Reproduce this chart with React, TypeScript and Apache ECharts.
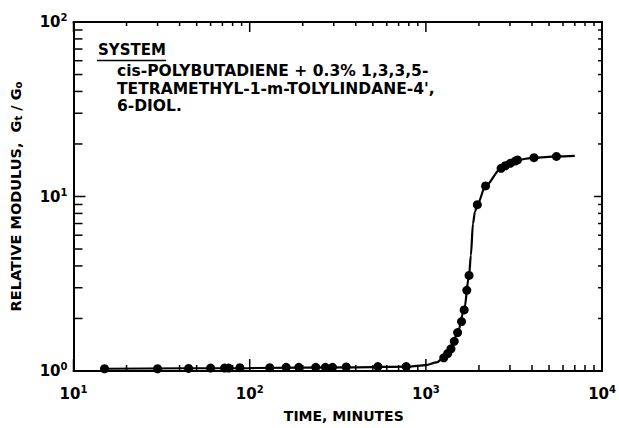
import React, { useEffect, useRef } from "react";
import * as echarts from "echarts";

// measured points: time (minutes) vs relative modulus Gt/Go
const pointTimes = [15, 30, 45, 60, 72, 76, 88, 130, 161, 190, 237, 269, 295, 353, 534, 773, 1263, 1330, 1388, 1449, 1514, 1594, 1649, 1707, 1758, 1959, 2181, 2672, 2824, 3012, 3212, 3309, 4107, 5505];
const pointModulus = [1.03, 1.03, 1.035, 1.04, 1.04, 1.04, 1.045, 1.045, 1.05, 1.05, 1.05, 1.05, 1.05, 1.055, 1.06, 1.06, 1.19, 1.26, 1.34, 1.48, 1.66, 1.92, 2.24, 2.9, 3.53, 8.98, 11.5, 14.5, 15.0, 15.5, 15.95, 16.2, 16.7, 16.96];

// fitted curve
const curveTimes = [15, 100, 400, 800, 1000, 1150, 1263, 1388, 1514, 1649, 1758, 1800, 1850, 1900, 1959, 2181, 2672, 3309, 4107, 5505, 7000];
const curveModulus = [1.03, 1.04, 1.05, 1.06, 1.08, 1.12, 1.19, 1.34, 1.66, 2.24, 3.53, 4.6, 7.0, 8.2, 8.98, 11.5, 14.5, 16.2, 16.7, 16.96, 17.1];

const xTickValues = [10, 20, 30, 40, 50, 60, 70, 80, 90, 100, 200, 300, 400, 500, 600, 700, 800, 900, 1000, 2000, 3000, 4000, 5000, 6000, 7000, 8000, 9000, 10000];
const yTickValues = [1, 2, 3, 4, 5, 6, 7, 8, 9, 10, 20, 30, 40, 50, 60, 70, 80, 90, 100];

const systemTitle = "SYSTEM";
const systemLines = [
  "cis-POLYBUTADIENE + 0.3% 1,3,3,5-",
  "TETRAMETHYL-1-m-TOLYLINDANE-4',",
  "6-DIOL.",
];

const FONT = "'DejaVu Sans', sans-serif";

const isMajor = (v: number) => Math.abs(Math.log10(v) - Math.round(Math.log10(v))) < 1e-9;

export default function App() {
  const ref = useRef<HTMLDivElement>(null);
  useEffect(() => {
    if (!ref.current) return;
    const chart = echarts.init(ref.current, null, { renderer: "svg" });
    const supFmt = (v: number) => `{b|10}{s|${Math.round(Math.log10(v))}}`;
    const rich = {
      b: { fontSize: 15, fontWeight: "bold", fontFamily: FONT, color: "#000" },
      s: { fontSize: 10, fontWeight: "bold", fontFamily: FONT, color: "#000", padding: [0, 0, 9, 0] },
    };
    const lineStyle = { color: "#000", width: 2 };
    chart.setOption({
      animation: false,
      backgroundColor: "#fff",
      grid: { left: 68, right: 16, top: 22, bottom: 53 },
      xAxis: [
        {
          type: "log", logBase: 10, min: 10, max: 10000, position: "bottom",
          axisLine: { show: true, lineStyle }, axisTick: { show: false }, splitLine: { show: false },
          axisLabel: { formatter: supFmt, rich, margin: 13 },
          name: "TIME, MINUTES", nameLocation: "middle", nameGap: 38,
          nameTextStyle: { fontSize: 14, fontWeight: "bold", fontFamily: FONT, color: "#000", padding: [0, 0, 0, 12] },
        },
        {
          type: "log", logBase: 10, min: 10, max: 10000, position: "top",
          axisLine: { show: true, lineStyle, onZero: false }, axisTick: { show: false }, splitLine: { show: false },
          axisLabel: { show: false },
        },
      ],
      yAxis: [
        {
          type: "log", logBase: 10, min: 1, max: 100, position: "left",
          axisLine: { show: true, lineStyle }, axisTick: { show: false }, splitLine: { show: false },
          axisLabel: { formatter: supFmt, rich, margin: 6 },
          name: "RELATIVE MODULUS,  G{sub|t} / G{sub|o}", nameLocation: "middle", nameGap: 50, nameRotate: 90,
          nameTextStyle: {
            fontSize: 14.5, fontWeight: "bold", fontFamily: FONT, color: "#000",
            rich: { sub: { fontSize: 10, fontWeight: "bold", fontFamily: FONT, color: "#000", padding: [6, 0, 0, 0] } },
          },
        },
        {
          type: "log", logBase: 10, min: 1, max: 100, position: "right",
          axisLine: { show: true, lineStyle, onZero: false }, axisTick: { show: false }, splitLine: { show: false },
          axisLabel: { show: false },
        },
      ],
      series: [
        {
          type: "custom", name: "xticks", clip: false, silent: true,
          data: xTickValues.map((v) => [v, 1]),
          renderItem: (params: any, api: any) => {
            const v = api.value(0);
            const b = api.coord([v, 1]);
            const t = api.coord([v, 100]);
            const major = isMajor(v);
            const lb = major ? 12 : 6;
            const lt = major ? 10 : 4;
            const st = { stroke: "#000", lineWidth: 1.5 };
            return {
              type: "group",
              children: [
                { type: "line", shape: { x1: b[0], y1: b[1], x2: b[0], y2: b[1] - lb }, style: st },
                { type: "line", shape: { x1: t[0], y1: t[1], x2: t[0], y2: t[1] + lt }, style: st },
              ],
            };
          },
        },
        {
          type: "custom", name: "yticks", clip: false, silent: true,
          data: yTickValues.map((v) => [10, v]),
          renderItem: (params: any, api: any) => {
            const v = api.value(1);
            const l = api.coord([10, v]);
            const r = api.coord([10000, v]);
            const major = isMajor(v);
            const ll = major ? 12 : 9;
            const lr = major ? 8 : 4;
            const st = { stroke: "#000", lineWidth: 1.5 };
            return {
              type: "group",
              children: [
                { type: "line", shape: { x1: l[0], y1: l[1], x2: l[0] + ll, y2: l[1] }, style: st },
                { type: "line", shape: { x1: r[0], y1: r[1], x2: r[0] - lr, y2: r[1] }, style: st },
              ],
            };
          },
        },
        {
          type: "line", name: "curve", showSymbol: false, symbol: "none",
          smooth: 0.3, smoothMonotone: "x",
          lineStyle: { color: "#000", width: 2.2 },
          data: curveTimes.map((t, i) => [t, curveModulus[i]]),
          z: 3,
        },
        {
          type: "scatter", name: "points", symbol: "circle", symbolSize: 9,
          itemStyle: { color: "#000", opacity: 1 },
          data: pointTimes.map((t, i) => [t, pointModulus[i]]),
          z: 4,
        },
      ],
      graphic: [
        {
          type: "text", left: 98, top: 42,
          style: { text: systemTitle, fontSize: 15, fontWeight: "bold", fontFamily: FONT, fill: "#000" },
        },
        { type: "line", shape: { x1: 97, y1: 60.5, x2: 166, y2: 60.5 }, style: { stroke: "#000", lineWidth: 1.5 } },
        ...systemLines.map((s, i) => ({
          type: "text", left: 117, top: 63 + i * 17.5,
          style: { text: s, fontSize: 15.5, fontWeight: "bold", fontFamily: FONT, fill: "#000" },
        })),
      ],
    });
    return () => chart.dispose();
  }, []);
  return <div ref={ref} style={{ position: "fixed", left: 0, top: 0, width: 619, height: 428 }} />;
}
